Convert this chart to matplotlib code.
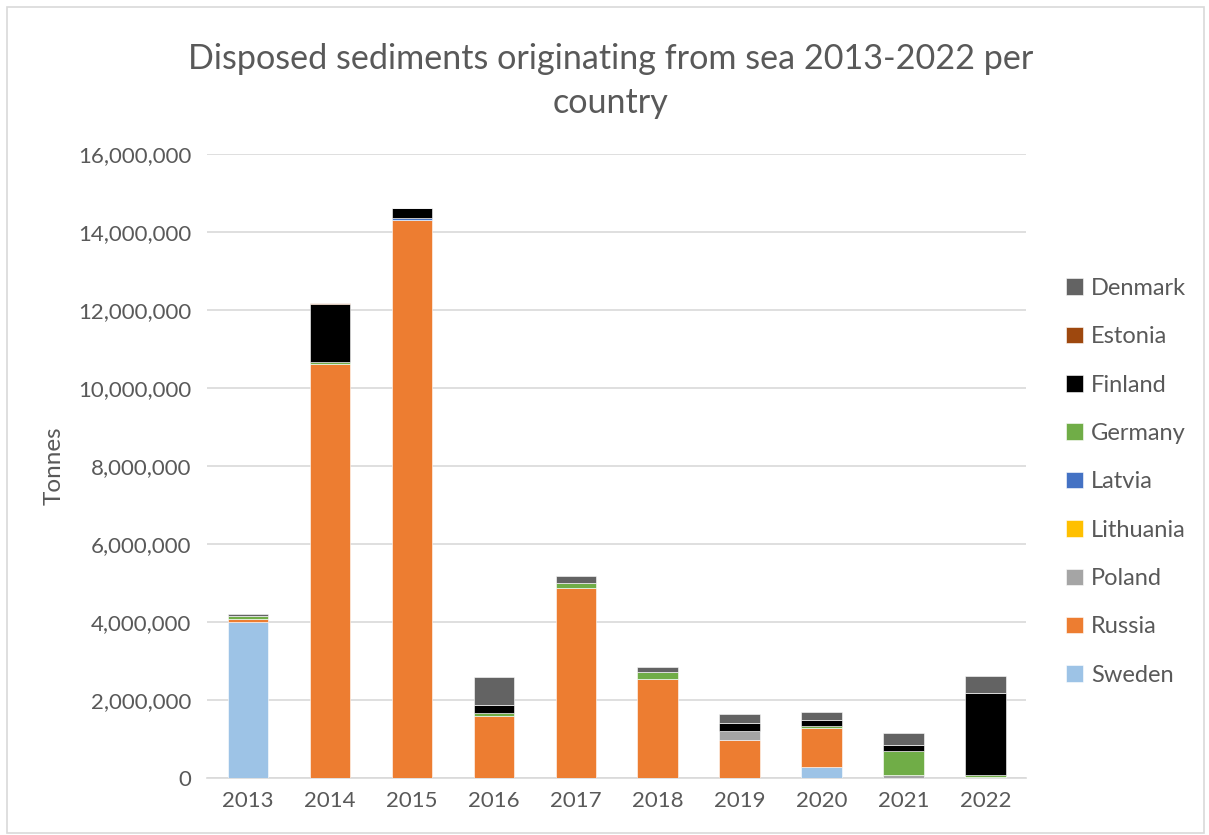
import numpy as np
import matplotlib
matplotlib.use('Agg')
import matplotlib.pyplot as plt
from matplotlib.ticker import FuncFormatter
from matplotlib.patches import Rectangle

plt.rcParams['font.family'] = ['Lato', 'DejaVu Sans']

years = ['2013', '2014', '2015', '2016', '2017', '2018', '2019', '2020', '2021', '2022']

# tonnes per country, stacked bottom -> top
sweden    = [4000000, 0, 0, 0, 0, 0, 0, 300000, 0, 0]
russia    = [90000, 10600000, 14310000, 1590000, 4870000, 2530000, 980000, 990000, 0, 30000]
poland    = [0, 0, 0, 0, 0, 0, 240000, 0, 70000, 0]
lithuania = [0, 0, 0, 0, 0, 0, 0, 0, 0, 0]
latvia    = [0, 0, 40000, 0, 0, 0, 0, 0, 0, 0]
germany   = [70000, 60000, 0, 85000, 130000, 200000, 0, 60000, 640000, 60000]
finland   = [0, 1500000, 250000, 200000, 0, 0, 200000, 150000, 130000, 2090000]
estonia   = [0, 10000, 0, 0, 0, 0, 0, 0, 0, 10000]
denmark   = [50000, 0, 0, 710000, 170000, 110000, 220000, 190000, 330000, 440000]

series = [
    ('Sweden', sweden, '#9DC3E6'),
    ('Russia', russia, '#ED7D31'),
    ('Poland', poland, '#A5A5A5'),
    ('Lithuania', lithuania, '#FFC000'),
    ('Latvia', latvia, '#4472C4'),
    ('Germany', germany, '#70AD47'),
    ('Finland', finland, '#000000'),
    ('Estonia', estonia, '#9E480E'),
    ('Denmark', denmark, '#636363'),
]

text_col = '#595959'

fig = plt.figure(figsize=(12.09, 8.35), dpi=100)
ax = fig.add_axes([0.171, 0.068, 0.678, 0.748])

x = np.arange(len(years))
bottom = np.zeros(len(years))
handles = []
for name, vals, col in series:
    vals = np.array(vals, dtype=float)
    b = ax.bar(x, vals, bottom=bottom, width=0.49, color=col, label=name,
               edgecolor='white', linewidth=0.4, zorder=3)
    handles.append(b)
    bottom += vals

ax.set_xlim(-0.5, len(years) - 0.5)
ax.set_ylim(0, 16000000)
ax.set_yticks(np.arange(0, 16000001, 2000000))
ax.yaxis.set_major_formatter(FuncFormatter(lambda v, p: f'{int(v):,}'))
ax.set_xticks(x)
ax.set_xticklabels(years)
ax.tick_params(axis='both', length=0, labelsize=16, labelcolor=text_col)
ax.tick_params(axis='y', pad=11)
ax.tick_params(axis='x', pad=9)
ax.yaxis.grid(True, color='#D9D9D9', linewidth=1.2, zorder=0)
ax.set_axisbelow(True)
for s in ['top', 'right', 'left']:
    ax.spines[s].set_visible(False)
ax.spines['bottom'].set_color('#D9D9D9')
ax.spines['bottom'].set_linewidth(1.2)

ax.set_ylabel('Tonnes', fontsize=17.5, color=text_col, labelpad=10)

fig.suptitle('Disposed sediments originating from sea 2013-2022 per\ncountry',
             x=0.505, y=0.948, fontsize=24.6, color=text_col, linespacing=1.45)

leg = fig.legend(handles=handles[::-1], labels=[s[0] for s in series][::-1],
                 loc='center left', bbox_to_anchor=(0.882, 0.423), frameon=False,
                 fontsize=17, labelcolor=text_col, handlelength=0.7,
                 handleheight=0.7, handletextpad=0.35, labelspacing=1.16,
                 borderpad=0, borderaxespad=0)

fig.patches.append(Rectangle((0.006, 0.002), 0.99, 0.99, transform=fig.transFigure,
                             fill=False, edgecolor='#D9D9D9', linewidth=1.2))

fig.savefig('out.png', dpi=100)
